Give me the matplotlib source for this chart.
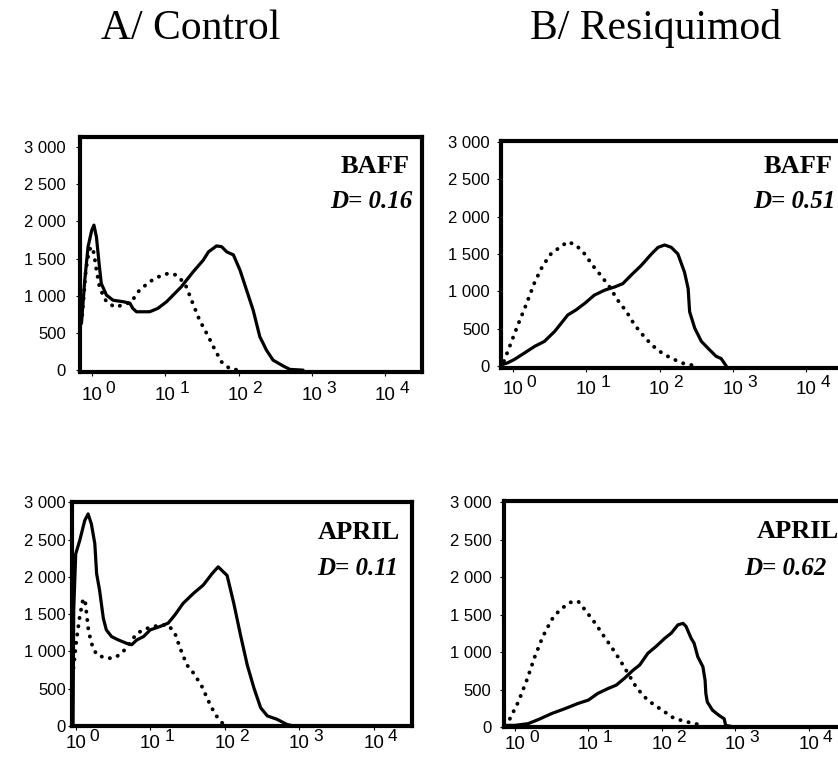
"""
Histogrammes de cytométrie : BAFF / APRIL, contrôle vs resiquimod.
Sortie : out.png
"""
import matplotlib

matplotlib.use("Agg")
import matplotlib.pyplot as plt  # noqa: E402
import numpy as np  # noqa: E402

plt.rcParams["font.family"] = "Liberation Sans"

W, H = 838, 762

# fluorescence en décades (log10) / nombre de cellules
baff_ctrl_solid_log = [-0.14, -0.095, -0.05, 0, 0.03, 0.064, 0.1, 0.13, 0.2, 0.29, 0.43, 0.52,
                       0.56, 0.61, 0.79, 0.9, 1.02, 1.11, 1.22, 1.38, 1.52, 1.59, 1.7, 1.77,
                       1.84, 1.93, 2.02, 2.11, 2.2, 2.29, 2.38, 2.47, 2.61, 2.7, 2.88]
baff_ctrl_solid = [628, 1210, 1660, 1880, 1950, 1790, 1435, 1165, 1010, 940, 920, 900,
                   830, 785, 785, 830, 920, 1010, 1120, 1320, 1480, 1590, 1670, 1660,
                   1590, 1550, 1345, 1075, 805, 450, 270, 135, 55, 10, 0]
baff_ctrl_dot_log = [-0.13, -0.08, -0.035, 0, 0.03, 0.064, 0.11, 0.2, 0.31, 0.43, 0.54, 0.65,
                     0.79, 0.93, 1.04, 1.15, 1.27, 1.36, 1.47, 1.59, 1.68, 1.77, 1.88, 2.0]
baff_ctrl_dot = [740, 1345, 1615, 1660, 1570, 1345, 1100, 920, 850, 875, 920, 1075,
                 1190, 1265, 1300, 1280, 1165, 940, 670, 450, 270, 110, 20, 0]

baff_resi_solid_log = [-0.14, -0.07, 0.02, 0.16, 0.3, 0.43, 0.57, 0.66, 0.75, 0.86, 0.98, 1.11,
                       1.25, 1.39, 1.5, 1.61, 1.75, 1.89, 1.98, 2.07, 2.16, 2.25, 2.34, 2.39,
                       2.41, 2.48, 2.57, 2.68, 2.77, 2.84, 2.91]
baff_resi_solid = [22, 44, 88, 176, 265, 330, 463, 573, 684, 750, 838, 948,
                   1015, 1059, 1103, 1213, 1345, 1500, 1588, 1620, 1588, 1500, 1257, 1037,
                   728, 507, 331, 220, 132, 101, 0]
baff_resi_dot_log = [-0.12, -0.05, 0.07, 0.18, 0.3, 0.41, 0.52, 0.64, 0.75, 0.86, 0.98, 1.09,
                     1.2, 1.32, 1.43, 1.55, 1.66, 1.77, 1.89, 2.0, 2.11, 2.23, 2.34, 2.52]
baff_resi_dot = [66, 243, 551, 816, 1125, 1345, 1500, 1588, 1663, 1620, 1500, 1345,
                 1213, 1059, 882, 728, 551, 419, 287, 198, 132, 75, 31, 0]

april_ctrl_solid_log = [-0.036, -0.027, 0, 0.054, 0.12, 0.166, 0.21, 0.256, 0.28, 0.32, 0.37,
                        0.41, 0.48, 0.57, 0.68, 0.75, 0.82, 0.91, 1.0, 1.13, 1.24, 1.33, 1.44,
                        1.58, 1.71, 1.83, 1.91, 2.03, 2.12, 2.21, 2.3, 2.39, 2.48, 2.57, 2.7,
                        2.83, 2.92]
april_ctrl_solid = [22, 1555, 2310, 2490, 2755, 2845, 2710, 2445, 2045, 1820, 1445,
                    1290, 1200, 1155, 1110, 1090, 1155, 1200, 1290, 1335, 1380, 1490, 1645,
                    1780, 1890, 2045, 2135, 2020, 1645, 1220, 820, 510, 245, 135, 90,
                    22, 0]
april_ctrl_dot_log = [-0.03, 0.01, 0.054, 0.1, 0.13, 0.17, 0.21, 0.28, 0.41, 0.5, 0.59, 0.68,
                      0.82, 0.96, 1.13, 1.24, 1.33, 1.4, 1.49, 1.58, 1.69, 1.78, 1.87, 1.96,
                      2.03]
april_ctrl_dot = [780, 1155, 1470, 1710, 1645, 1290, 1110, 955, 910, 910, 955, 1045,
                  1245, 1310, 1355, 1355, 1245, 1045, 820, 710, 535, 335, 155, 45, 0]

april_resi_solid_log = [-0.13, 0, 0.18, 0.32, 0.5, 0.68, 0.86, 1.0, 1.13, 1.27, 1.38, 1.49,
                        1.61, 1.7, 1.81, 1.92, 2.04, 2.13, 2.22, 2.29, 2.33, 2.4, 2.44, 2.49,
                        2.56, 2.59, 2.6, 2.62, 2.69, 2.78, 2.85, 2.87, 2.99]
april_resi_solid = [22, 22, 45, 100, 180, 245, 315, 360, 450, 515, 560, 650,
                    760, 830, 985, 1075, 1185, 1255, 1365, 1385, 1345, 1185, 1120, 940,
                    805, 625, 450, 335, 225, 155, 110, 22, 0]
april_resi_dot_log = [-0.07, 0.045, 0.16, 0.27, 0.38, 0.5, 0.61, 0.75, 0.86, 0.97, 1.09, 1.2,
                      1.31, 1.43, 1.54, 1.65, 1.76, 1.9, 2.01, 2.13, 2.26, 2.4, 2.56]
april_resi_dot = [110, 335, 625, 940, 1210, 1435, 1565, 1665, 1680, 1545, 1390, 1230,
                  1075, 895, 715, 535, 405, 290, 225, 135, 90, 55, 22]

y_ticks = [0, 500, 1000, 1500, 2000, 2500, 3000]
y_ticklabels = ["0", "500", "1 000", "1 500", "2 000", "2 500", "3 000"]
x_ticks = [1, 10, 100, 1000, 10000]
x_exponents = ["0", "1", "2", "3", "4"]

labels = ["BAFF", "BAFF", "APRIL", "APRIL"]
d_values = ["D= 0.16", "D= 0.51", "D= 0.11", "D= 0.62"]


def fx(px):
    return px / W


def fy(py):
    return 1 - py / H


PT = 0.72  # points par pixel à 100 dpi

# (gauche, droite, haut, bas) en pixels, xlim en décades, ylim, pads
panels = [
    dict(box=(80, 422, 137, 372), xl=(-0.16, 4.50), yl=(-25, 3135), ypad=7, xgap=16,
         solid=(baff_ctrl_solid_log, baff_ctrl_solid), dot=(baff_ctrl_dot_log, baff_ctrl_dot),
         lab=(410, 173), d=(412, 208)),
    dict(box=(501, 843, 141, 368), xl=(-0.16, 4.50), yl=(-25, 3010), ypad=5, xgap=14,
         solid=(baff_resi_solid_log, baff_resi_solid), dot=(baff_resi_dot_log, baff_resi_dot),
         lab=(833, 173), d=(835, 208)),
    dict(box=(72, 412, 502, 726), xl=(-0.05, 4.51), yl=(0, 3005), ypad=1.5, xgap=10,
         solid=(april_ctrl_solid_log, april_ctrl_solid), dot=(april_ctrl_dot_log, april_ctrl_dot),
         lab=(400, 539), d=(398, 575)),
    dict(box=(504, 846, 501, 727), xl=(-0.15, 4.51), yl=(0, 3020), ypad=6, xgap=10,
         solid=(april_resi_solid_log, april_resi_solid), dot=(april_resi_dot_log, april_resi_dot),
         lab=(839, 538), d=(826, 575)),
]

fig = plt.figure(figsize=(W / 100, H / 100), dpi=100)

for i, p in enumerate(panels):
    l, r, t, b = p["box"]
    ax = fig.add_axes([fx(l), fy(b), (r - l) / W, (b - t) / H])
    ax.set_xscale("log")
    ax.plot(np.power(10.0, p["solid"][0]), p["solid"][1], color="black", lw=2.3,
            solid_joinstyle="round", solid_capstyle="round", zorder=3)
    ax.plot(np.power(10.0, p["dot"][0]), p["dot"][1], color="black", lw=2.8,
            linestyle=(0, (0.05, 2.1)), dash_capstyle="round", zorder=3)
    ax.set_xlim(10 ** p["xl"][0], 10 ** p["xl"][1])
    ax.set_ylim(*p["yl"])
    for s in ax.spines.values():
        s.set_linewidth(3.0)
    ax.set_xticks(x_ticks)
    ax.set_xticklabels(["10"] * len(x_ticks))
    ax.minorticks_off()
    ax.set_yticks(y_ticks)
    ax.set_yticklabels(y_ticklabels)
    ax.tick_params(axis="x", direction="out", length=3, width=0.8,
                   pad=(p["xgap"] - 5) * PT, labelsize=13.5)
    ax.tick_params(axis="y", direction="out", length=3, width=0.8, pad=p["ypad"], labelsize=12)
    # exposants : presque aussi grands que la base, comme dans l'original
    for v, e in zip(x_ticks, x_exponents):
        ax.annotate(e, xy=(v, 0), xycoords=("data", "axes fraction"),
                    xytext=(14 * PT, -(p["xgap"] + 5) * PT), textcoords="offset points",
                    ha="left", va="baseline", fontsize=12.5, annotation_clip=False)

    fig.text(fx(p["lab"][0]), fy(p["lab"][1]), labels[i], ha="right", va="baseline",
             family="Liberation Serif", fontweight="bold", fontsize=19)
    fig.text(fx(p["d"][0]), fy(p["d"][1]), d_values[i], ha="right", va="baseline",
             family="Liberation Serif", fontweight="bold", fontstyle="italic", fontsize=18)

fig.text(fx(191), fy(39), "A/ Control", ha="center", va="baseline",
         family="Liberation Serif", fontsize=30)
fig.text(fx(656), fy(39), "B/ Resiquimod", ha="center", va="baseline",
         family="Liberation Serif", fontsize=30)

fig.savefig("out.png", dpi=100, facecolor="white")
